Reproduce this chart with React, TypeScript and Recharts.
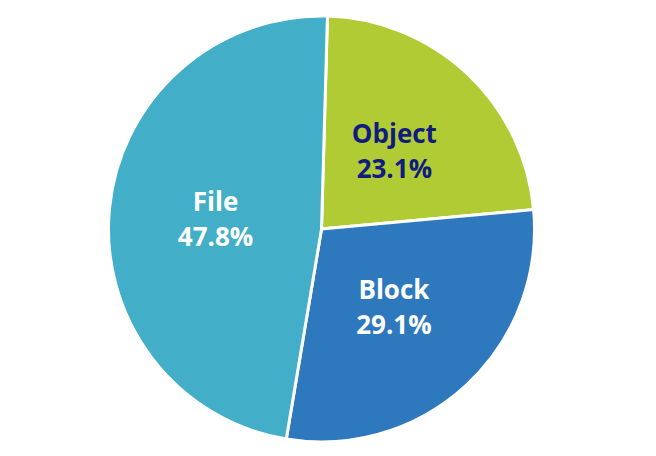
import { Cell, Pie, PieChart } from "recharts";

const CATEGORIES = ["Object", "Block", "File"];
const SHARES = [23.1, 29.1, 47.8];
const COLORS = ["#b0cb33", "#2e78be", "#43aec8"];
const LABEL_COLORS = ["#101c80", "#ffffff", "#ffffff"];

const data = CATEGORIES.map((name, i) => ({ name, value: SHARES[i] }));

const RADIAN = Math.PI / 180;

function renderLabel(props: any) {
  const { cx, cy, midAngle, outerRadius, index } = props;
  const r = outerRadius * 0.5;
  const x = cx + r * Math.cos(-midAngle * RADIAN);
  const y = cy + r * Math.sin(-midAngle * RADIAN);
  return (
    <text
      x={x}
      y={y}
      textAnchor="middle"
      fill={LABEL_COLORS[index]}
      fontFamily="Open Sans"
      fontWeight={700}
      fontSize={26}
    >
      <tspan x={x} dy={-8}>
        {CATEGORIES[index]}
      </tspan>
      <tspan x={x} dy={35}>
        {SHARES[index].toFixed(1)}%
      </tspan>
    </text>
  );
}

export default function App() {
  return (
    <div style={{ position: "absolute", left: 0, top: 0, width: 656, height: 456, background: "#fff" }}>
      <PieChart width={656} height={456}>
        <Pie
          data={data}
          dataKey="value"
          cx={316.5}
          cy={224}
          outerRadius={213}
          startAngle={88.4}
          endAngle={88.4 - 360}
          stroke="#ffffff"
          strokeWidth={3}
          label={renderLabel}
          labelLine={false}
          isAnimationActive={false}
        >
          {data.map((d, i) => (
            <Cell key={d.name} fill={COLORS[i]} />
          ))}
        </Pie>
      </PieChart>
    </div>
  );
}
